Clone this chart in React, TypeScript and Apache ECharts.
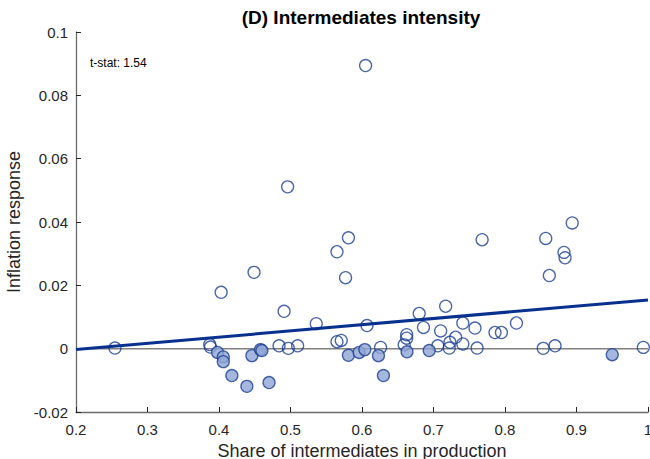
import React, { useEffect, useRef } from "react";
import * as echarts from "echarts";

// Open-circle observations (share of intermediates, inflation response)
const openX = [0.2545, 0.387, 0.388, 0.403, 0.449, 0.484, 0.491, 0.496, 0.497, 0.510, 0.536, 0.565, 0.565, 0.571, 0.577, 0.581, 0.605, 0.607, 0.626, 0.659, 0.6625, 0.6625, 0.680, 0.686, 0.706, 0.710, 0.717, 0.722, 0.723, 0.731, 0.741, 0.741, 0.758, 0.761, 0.768, 0.786, 0.795, 0.816, 0.8535, 0.857, 0.862, 0.870, 0.8825, 0.884, 0.894, 0.9935];
const openY = [0.0002, 0.0013, 0.0005, 0.0178, 0.0241, 0.0009, 0.0118, 0.0511, 0.0001, 0.0009, 0.0079, 0.0306, 0.0022, 0.0026, 0.0224, 0.0350, 0.0894, 0.0073, 0.0004, 0.0012, 0.0044, 0.0033, 0.0111, 0.0067, 0.0009, 0.0056, 0.0134, 0.0002, 0.0020, 0.0036, 0.0081, 0.0015, 0.0065, 0.0002, 0.0344, 0.0051, 0.0051, 0.0081, 0.0001, 0.0348, 0.0231, 0.0009, 0.0304, 0.0287, 0.0397, 0.0004];

// Filled-circle observations
const filledX = [0.398, 0.406, 0.406, 0.418, 0.439, 0.446, 0.458, 0.460, 0.470, 0.581, 0.596, 0.604, 0.623, 0.630, 0.663, 0.694, 0.950];
const filledY = [-0.0012, -0.0026, -0.0041, -0.0085, -0.0119, -0.0022, -0.0003, -0.0006, -0.0107, -0.0021, -0.0012, -0.0003, -0.0022, -0.0085, -0.0010, -0.0006, -0.0019];

// Fitted line
const fitIntercept = -0.0042;
const fitSlope = 0.0196;
const fitRange = [0.2, 1.0];

const xTicks = [0.2, 1.0, 0.1];
const yTicks = [-0.02, 0.1, 0.02];

const titleText = "(D) Intermediates intensity";
const tstatText = "t-stat: 1.54";
const xName = "Share of intermediates in production";
const yName = "Inflation response";

const FONT = "Liberation Sans, Arial, Helvetica, sans-serif";

export default function App() {
  const ref = useRef<HTMLDivElement>(null);
  useEffect(() => {
    if (!ref.current) return;
    const chart = echarts.init(ref.current, undefined, { renderer: "svg" });
    const openData = openX.map((x, i) => [x, openY[i]]);
    const filledData = filledX.map((x, i) => [x, filledY[i]]);
    const fitData = fitRange.map((x) => [x, fitIntercept + fitSlope * x]);
    const zeroData = fitRange.map((x) => [x, 0]);
    const stroke = "#1c3f94";
    chart.setOption({
      animation: false,
      backgroundColor: "#ffffff",
      textStyle: { fontFamily: FONT },
      grid: {
        left: 76,
        right: 2,
        top: 32,
        bottom: 47,
        containLabel: false,
        outerBoundsMode: "none",
      },
      graphic: [
        {
          type: "text",
          x: 361,
          y: 17.5,
          style: {
            text: titleText,
            fontFamily: FONT,
            fontSize: 19,
            fontWeight: "bold",
            fill: "#000",
            textAlign: "center",
            textVerticalAlign: "middle",
          },
        },
        {
          type: "text",
          x: 90,
          y: 63,
          style: {
            text: tstatText,
            fontFamily: FONT,
            fontSize: 12,
            fill: "#000",
            textAlign: "left",
            textVerticalAlign: "middle",
          },
        },
      ],
      xAxis: {
        type: "value",
        min: xTicks[0],
        max: xTicks[1],
        interval: xTicks[2],
        name: xName,
        nameLocation: "middle",
        nameGap: 28,
        nameTextStyle: { fontSize: 18, color: "#262626", fontFamily: FONT },
        axisLine: { show: true, onZero: false, lineStyle: { color: "#6b6b6b", width: 1.3 } },
        axisTick: { show: true, inside: true, length: 5, lineStyle: { color: "#262626", width: 1 } },
        axisLabel: {
          fontSize: 15,
          color: "#262626",
          margin: 10,
          fontFamily: FONT,
          hideOverlap: false,
          formatter: (v: number) => String(+v.toFixed(2)),
        },
        splitLine: { show: false },
      },
      yAxis: {
        type: "value",
        min: yTicks[0],
        max: yTicks[1],
        interval: yTicks[2],
        name: yName,
        nameLocation: "middle",
        nameGap: 49,
        nameTextStyle: { fontSize: 18, color: "#262626", fontFamily: FONT },
        axisLine: { show: true, onZero: false, lineStyle: { color: "#6b6b6b", width: 1.3 } },
        axisTick: { show: true, inside: true, length: 5, lineStyle: { color: "#262626", width: 1 } },
        axisLabel: {
          fontSize: 15,
          color: "#262626",
          margin: 8,
          fontFamily: FONT,
          formatter: (v: number) => String(+v.toFixed(2)),
        },
        splitLine: { show: false },
      },
      series: [
        {
          type: "line",
          data: zeroData,
          symbol: "none",
          lineStyle: { color: "#808080", width: 1.5 },
          z: 1,
          silent: true,
        },
        {
          type: "scatter",
          data: openData,
          symbol: "circle",
          symbolSize: 12,
          itemStyle: { color: "rgba(255,255,255,0)", borderColor: stroke, borderWidth: 1.3 },
          z: 2,
        },
        {
          type: "scatter",
          data: filledData,
          symbol: "circle",
          symbolSize: 12,
          itemStyle: { color: "#8ea5d4", borderColor: stroke, borderWidth: 1.3 },
          z: 3,
        },
        {
          type: "line",
          data: fitData,
          symbol: "none",
          lineStyle: { color: "#08318f", width: 3 },
          z: 4,
          silent: true,
        },
      ],
    });
    return () => chart.dispose();
  }, []);
  return (
    <div
      ref={ref}
      style={{ position: "fixed", left: 0, top: 0, width: 650, height: 459 }}
    />
  );
}
